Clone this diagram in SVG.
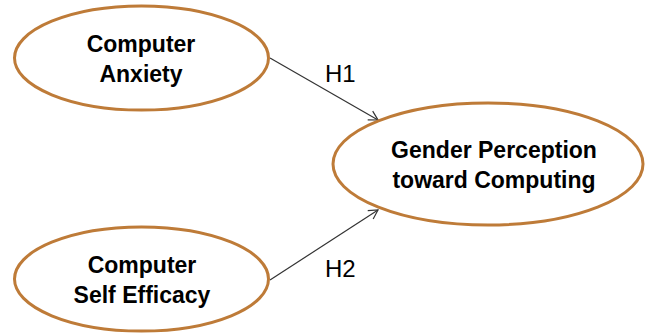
<svg xmlns="http://www.w3.org/2000/svg" width="647" height="333" viewBox="0 0 647 333">
<style>
.node{fill:#fff;stroke:#BE7B38;stroke-width:3}
.lbl{font-family:"Liberation Sans",Arial,sans-serif;font-weight:bold;font-size:23px;fill:#000;text-anchor:middle}
.h{font-family:"Liberation Sans",Arial,sans-serif;font-size:24px;fill:#000}
.conn{stroke:#333;stroke-width:1.2;fill:none}
</style>
<defs>
<marker id="arr" markerWidth="12" markerHeight="12" refX="10" refY="6" orient="auto" markerUnits="userSpaceOnUse">
<path d="M1,1 L10,6 L1,11" fill="none" stroke="#333" stroke-width="1.2"/>
</marker>
</defs>
<rect width="647" height="333" fill="#fff"/>
<g id="connectors">
<line class="conn" x1="270" y1="58" x2="378" y2="120" marker-end="url(#arr)"/>
<line class="conn" x1="270" y1="280" x2="378" y2="210" marker-end="url(#arr)"/>
<text class="h" x="325" y="82">H1</text>
<text class="h" x="325" y="277">H2</text>
</g>
<g id="anxiety">
<ellipse class="node" cx="141.5" cy="58" rx="127" ry="52"/>
<text class="lbl" x="141" y="52">Computer</text>
<text class="lbl" x="141" y="82">Anxiety</text>
</g>
<g id="efficacy">
<ellipse class="node" cx="141.5" cy="279" rx="127" ry="52"/>
<text class="lbl" x="142" y="273">Computer</text>
<text class="lbl" x="142" y="303">Self Efficacy</text>
</g>
<g id="gender">
<ellipse class="node" cx="488" cy="164" rx="155" ry="61"/>
<text class="lbl" x="494" y="158">Gender Perception</text>
<text class="lbl" x="494" y="188">toward Computing</text>
</g>
</svg>
